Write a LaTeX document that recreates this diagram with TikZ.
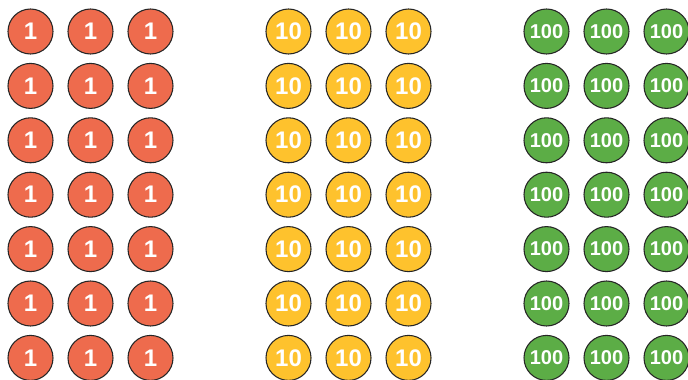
\documentclass[tikz,border=0pt]{standalone}
\usepackage{fontspec}
\setmainfont{Liberation Sans}
\definecolor{coinred}{HTML}{EE6B4D}
\definecolor{coinyellow}{HTML}{FEC22D}
\definecolor{coingreen}{HTML}{5CAD46}
\begin{document}
\begin{tikzpicture}[x=0.75pt, y=-0.75pt,
    coin/.style={circle, minimum size=33.75pt, inner sep=0,
                 draw=black!85, line width=0.8pt, text=white}]
  \useasboundingbox (0,0) rectangle (688,379);
  % coin grid: 3 groups, 7 rows, 3 columns each
  \def\cs{60}    % column spacing
  \def\rs{54.4}  % row spacing
  \def\gs{258}   % group spacing

  \foreach \g/\val/\col/\fs in {0/1/coinred/18, 1/10/coinyellow/18, 2/100/coingreen/15} {
    \foreach \i in {1,...,7} {
      \foreach \j in {1,...,3} {
        \pgfmathsetmacro{\cx}{30.5 + \g*\gs + (\j-1)*\cs}
        \pgfmathsetmacro{\cy}{31.5 + (\i-1)*\rs}
        \node[coin, fill=\col, font=\bfseries\fontsize{\fs}{\fs}\selectfont]
          (c\g-\i-\j) at (\cx, \cy) {\val};
      }
    }
  }
\end{tikzpicture}
\end{document}
